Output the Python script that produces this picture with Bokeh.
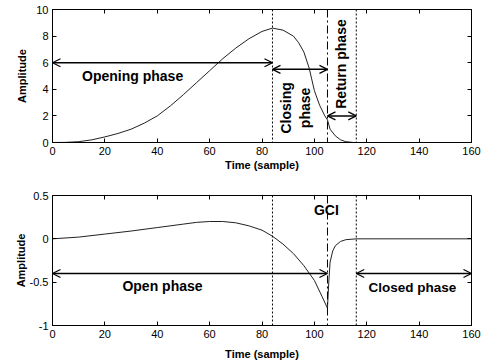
import numpy as np
from bokeh.plotting import figure
from bokeh.layouts import column
from bokeh.models import (Range1d, FixedTicker, LinearAxis, Span, Arrow, OpenHead,
                          Label, CustomJSTickFormatter)
from bokeh.embed import file_html
from bokeh.resources import INLINE

FONT = "Liberation Sans"

# ---- data ----
flow_x = [0, 5, 10, 15, 20, 25, 30, 35, 40, 45, 50, 55, 60, 65, 70, 75, 80, 84,
          88, 92, 94, 96, 98, 100, 102, 104, 105, 106, 108, 110, 112, 115, 160]
flow_y = [0, 0.01, 0.06, 0.2, 0.42, 0.68, 1.0, 1.45, 2.0, 2.75, 3.6, 4.5, 5.4,
          6.3, 7.1, 7.8, 8.35, 8.6, 8.45, 8.0, 7.5, 6.8, 5.6, 3.9, 2.8, 2.0, 1.7,
          1.0, 0.5, 0.2, 0.06, 0, 0]

deriv_x = [0, 10, 20, 30, 40, 50, 55, 60, 65, 70, 75, 80, 84, 88, 92, 96, 100,
           103, 105, 105.5, 106, 107, 108, 110, 112, 114, 116, 160]
deriv_y = [0, 0.02, 0.055, 0.09, 0.13, 0.17, 0.19, 0.2, 0.2, 0.185, 0.15, 0.1,
           0.03, -0.06, -0.17, -0.31, -0.48, -0.67, -0.8, -0.5, -0.27, -0.14,
           -0.08, -0.03, -0.01, -0.005, 0, 0]

x_ticks = [0, 20, 40, 60, 80, 100, 120, 140, 160]
flow_ticks = [0, 2, 4, 6, 8, 10]
deriv_ticks = [-1, -0.5, 0, 0.5]

T_OPEN_END = 84     # end of opening phase / open-phase boundary
T_GCI = 105         # glottal closure instant
T_RETURN_END = 116  # end of return phase
X_MAX = 160


def make_fig(height, top, bottom, yr, yticks, ylab_standoff, xlab_standoff):
    p = figure(width=486, height=height, output_backend="svg", toolbar_location=None,
               x_range=Range1d(0, X_MAX), y_range=Range1d(*yr),
               min_border_left=52, min_border_right=15,
               min_border_top=top, min_border_bottom=bottom)
    p.grid.visible = False
    p.outline_line_color = "black"
    p.outline_line_width = 1
    p.background_fill_color = "white"
    p.border_fill_color = "white"
    p.xaxis.ticker = FixedTicker(ticks=x_ticks)
    p.yaxis.ticker = FixedTicker(ticks=yticks)
    p.xaxis.formatter = CustomJSTickFormatter(code="return tick.toString();")
    p.yaxis.formatter = CustomJSTickFormatter(code="return tick.toString();")
    for ax in (p.xaxis, p.yaxis):
        ax.major_tick_in = 4
        ax.major_tick_out = 0
        ax.minor_tick_line_color = None
        ax.axis_line_color = "black"
        ax.major_label_text_font = FONT
        ax.major_label_text_font_size = "11px"
        ax.major_label_text_color = "black"
        ax.axis_label_text_font = FONT
        ax.axis_label_text_font_style = "bold"
        ax.axis_label_text_font_size = "11px"
        ax.axis_label_text_color = "black"
        ax.major_label_standoff = 4
    p.xaxis.axis_label = "Time (sample)"
    p.yaxis.axis_label = "Amplitude"
    p.yaxis.axis_label_standoff = ylab_standoff
    p.xaxis.axis_label_standoff = xlab_standoff
    p.yaxis.major_label_standoff = 4
    for loc, ticks in (("above", x_ticks), ("right", yticks)):
        ax = LinearAxis(ticker=FixedTicker(ticks=ticks), major_label_text_font_size="0px",
                        major_tick_in=4, major_tick_out=0, minor_tick_line_color=None,
                        axis_line_color=None, major_label_standoff=0)
        p.add_layout(ax, loc)
    return p


def vlines(p):
    p.add_layout(Span(location=T_OPEN_END, dimension="height", line_color="black",
                      line_width=1, line_dash="2 2"))
    p.add_layout(Span(location=T_GCI, dimension="height", line_color="black",
                      line_width=1, line_dash="8 3 2 3"))
    p.add_layout(Span(location=T_RETURN_END, dimension="height", line_color="black",
                      line_width=1, line_dash="2 2"))


def arrow(p, x0, x1, y, lw=1.5):
    p.add_layout(Arrow(start=OpenHead(size=8, line_width=1.2, line_color="black"),
                       end=OpenHead(size=8, line_width=1.2, line_color="black"),
                       x_start=x0, y_start=y, x_end=x1, y_end=y,
                       line_width=lw, line_color="black"))


def label(p, x, y, text, angle=0.0, size="14px"):
    p.add_layout(Label(x=x, y=y, text=text, angle=angle, text_font=FONT,
                       text_font_style="bold", text_font_size=size,
                       text_align="center", text_baseline="middle",
                       text_color="black"))


# ---- top: glottal flow ----
p1 = make_fig(181, 9, 39, (0, 10), flow_ticks, 5, 1)
vlines(p1)
p1.line(flow_x, flow_y, line_color="#222222", line_width=1)
arrow(p1, 0, T_OPEN_END, 6)
arrow(p1, T_OPEN_END, T_GCI, 5.5)
arrow(p1, T_GCI, T_RETURN_END, 2)
label(p1, 30.6, 5.0, "Opening phase")
label(p1, 89.3, 2.6, "Closing", angle=np.pi / 2)
label(p1, 96.6, 2.6, "phase", angle=np.pi / 2)
label(p1, 110.3, 5.9, "Return phase", angle=np.pi / 2)

# ---- bottom: flow derivative ----
p2 = make_fig(181, 14, 35, (-1, 0.5), deriv_ticks, 0, 7)
vlines(p2)
p2.line(deriv_x, deriv_y, line_color="#222222", line_width=1)
arrow(p2, 0, T_GCI, -0.4)
arrow(p2, T_RETURN_END, X_MAX, -0.4)
label(p2, 42, -0.545, "Open phase")
label(p2, 137.4, -0.56, "Closed phase", size="13.5px")
label(p2, 104.6, 0.33, "GCI")

layout = column(p1, p2)
open("out.html", "w").write(file_html(layout, INLINE))
